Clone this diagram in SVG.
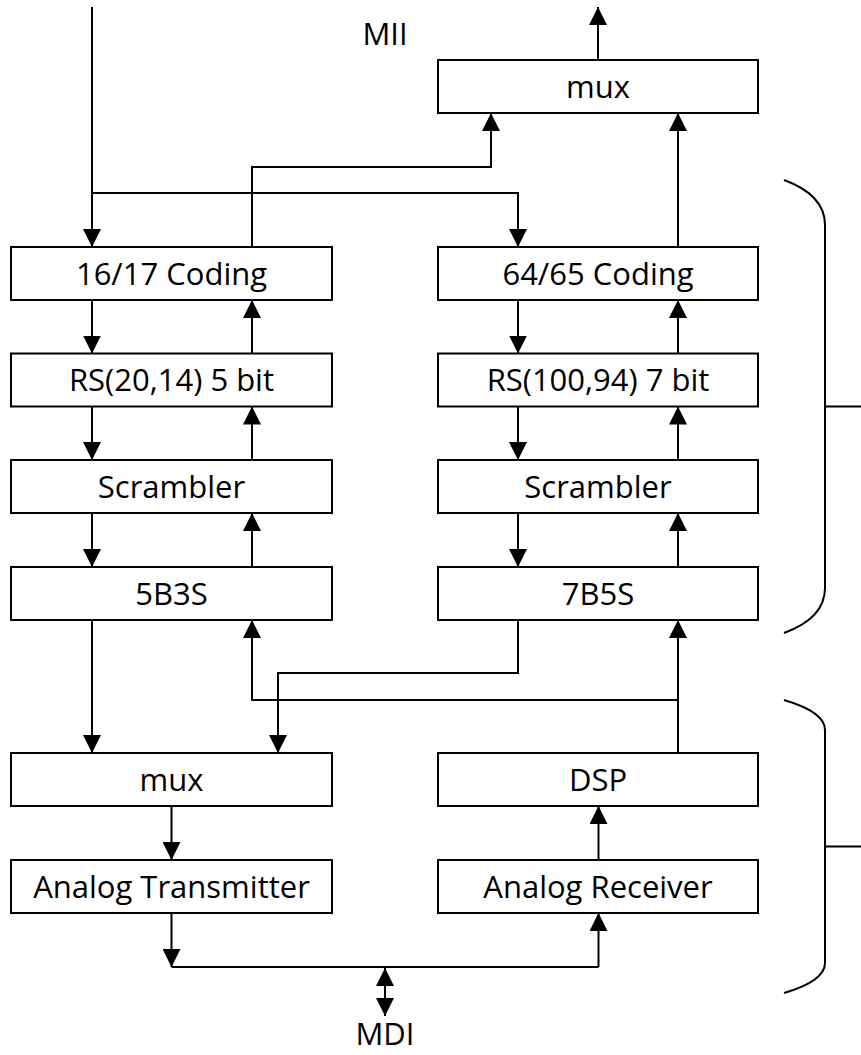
<svg xmlns="http://www.w3.org/2000/svg" width="861" height="1055" viewBox="0 0 861 1055">
  <style>
    .box { fill: #ffffff; stroke: #000000; stroke-width: 2; }
    .lbl { font-family: "Open Sans", "Liberation Sans", sans-serif; font-size: 31px; fill: #000000; text-anchor: middle; }
    .wire { fill: none; stroke: #000000; stroke-width: 2; }
    .arr { marker-end: url(#head); }
    .brace { fill: none; stroke: #000000; stroke-width: 2; }
  </style>
  <defs>
    <marker id="head" markerUnits="userSpaceOnUse" markerWidth="18" markerHeight="18" viewBox="0 0 18 18" refX="18" refY="9" orient="auto-start-reverse">
      <path d="M0,0 L18,9 L0,18 z" fill="#000000"/>
    </marker>
  </defs>

  <rect width="861" height="1055" fill="#ffffff"/>

  <!-- interface labels -->
  <text class="lbl" x="385" y="45">MII</text>
  <text class="lbl" x="385" y="1045">MDI</text>

  <!-- connectors -->
  <g id="connectors">
    <!-- MII input and split to both coders -->
    <path class="wire arr" d="M92,7 V247"/>
    <path class="wire arr" d="M92,193 H518 V247"/>
    <!-- coder outputs to the receive mux -->
    <path class="wire arr" d="M252,247 V167 H491 V113"/>
    <path class="wire arr" d="M678,247 V113"/>
    <path class="wire arr" d="M598,60 V7"/>

    <!-- left chain, transmit (down) -->
    <path class="wire arr" d="M92,300 V353.5"/>
    <path class="wire arr" d="M92,406.5 V460"/>
    <path class="wire arr" d="M92,513 V567"/>
    <path class="wire arr" d="M92,620 V753"/>
    <!-- left chain, receive (up) -->
    <path class="wire arr" d="M252,353.5 V300"/>
    <path class="wire arr" d="M252,460 V406.5"/>
    <path class="wire arr" d="M252,567 V513"/>

    <!-- right chain, transmit (down) -->
    <path class="wire arr" d="M518,300 V353.5"/>
    <path class="wire arr" d="M518,406.5 V460"/>
    <path class="wire arr" d="M518,513 V567"/>
    <!-- right chain, receive (up) -->
    <path class="wire arr" d="M678,353.5 V300"/>
    <path class="wire arr" d="M678,460 V406.5"/>
    <path class="wire arr" d="M678,567 V513"/>

    <!-- crossings between the PCS and PMA -->
    <path class="wire arr" d="M518,620 V673 H278 V753"/>
    <path class="wire arr" d="M678,753 V620"/>
    <path class="wire arr" d="M678,700 H252 V620"/>

    <!-- PMA -->
    <path class="wire arr" d="M171.5,806 V860"/>
    <path class="wire arr" d="M171.5,913 V967"/>
    <path class="wire" d="M171.5,967 H598.5"/>
    <path class="wire arr" d="M598.5,967 V913"/>
    <path class="wire arr" d="M598.5,860 V806"/>
    <path class="wire" style="marker-start:url(#head);marker-end:url(#head)" d="M385,968 V1016"/>
  </g>

  <!-- nodes -->
  <g id="mux-rx"><rect class="box" x="438" y="60" width="320" height="53"/><text class="lbl" x="598" y="97.5">mux</text></g>

  <g id="coding-16-17"><rect class="box" x="11" y="247" width="321" height="53"/><text class="lbl" x="171.5" y="284.5">16/17 Coding</text></g>
  <g id="rs-20-14"><rect class="box" x="11" y="353.5" width="321" height="53"/><text class="lbl" x="171.5" y="391">RS(20,14) 5 bit</text></g>
  <g id="scrambler-left"><rect class="box" x="11" y="460" width="321" height="53"/><text class="lbl" x="171.5" y="497.5">Scrambler</text></g>
  <g id="pam-5b3s"><rect class="box" x="11" y="567" width="321" height="53"/><text class="lbl" x="171.5" y="604.5">5B3S</text></g>

  <g id="coding-64-65"><rect class="box" x="438" y="247" width="320" height="53"/><text class="lbl" x="598" y="284.5">64/65 Coding</text></g>
  <g id="rs-100-94"><rect class="box" x="438" y="353.5" width="320" height="53"/><text class="lbl" x="598" y="391">RS(100,94) 7 bit</text></g>
  <g id="scrambler-right"><rect class="box" x="438" y="460" width="320" height="53"/><text class="lbl" x="598" y="497.5">Scrambler</text></g>
  <g id="pam-7b5s"><rect class="box" x="438" y="567" width="320" height="53"/><text class="lbl" x="598" y="604.5">7B5S</text></g>

  <g id="mux-tx"><rect class="box" x="11" y="753" width="321" height="53"/><text class="lbl" x="171.5" y="790.5">mux</text></g>
  <g id="analog-tx"><rect class="box" x="11" y="860" width="321" height="53"/><text class="lbl" x="171.5" y="897.5">Analog Transmitter</text></g>
  <g id="dsp"><rect class="box" x="438" y="753" width="320" height="53"/><text class="lbl" x="598" y="790.5">DSP</text></g>
  <g id="analog-rx"><rect class="box" x="438" y="860" width="320" height="53"/><text class="lbl" x="598" y="897.5">Analog Receiver</text></g>

  <!-- layer braces -->
  <g id="brace-pcs">
    <path class="brace" d="M784,180 Q825,195 825,225 V588 Q825,618 784,633"/>
    <path class="brace" d="M825,406.5 H861"/>
  </g>
  <g id="brace-pma">
    <path class="brace" d="M784,700 Q825,712 825,730 V963 Q825,981 784,993"/>
    <path class="brace" d="M825,846.5 H861"/>
  </g>
</svg>
